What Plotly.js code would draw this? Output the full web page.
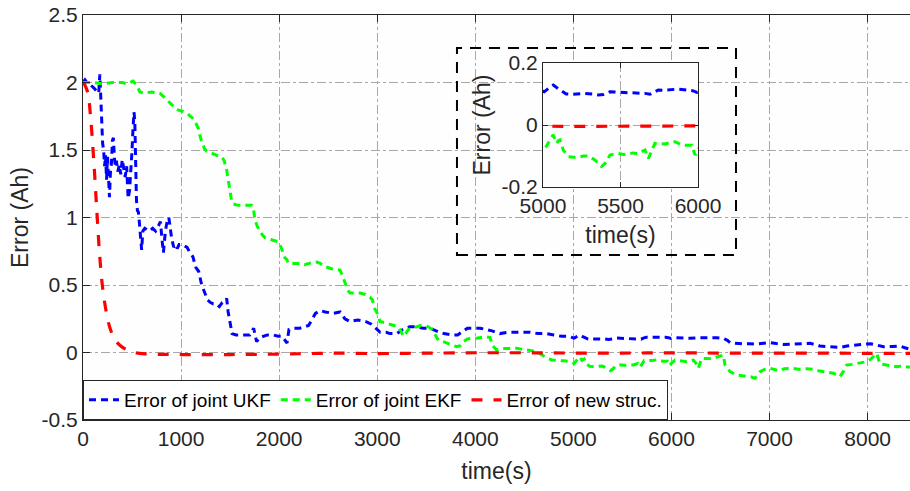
<!DOCTYPE html>
<html>
<head>
<meta charset="utf-8">
<script src="https://cdn.plot.ly/plotly-3.0.1.min.js"></script>
<style>html,body{margin:0;padding:0;background:#fff;}#chart{width:910px;height:491px;}</style>
</head>
<body>
<div id="chart"></div>
<script>
// ---- data ----
const seriesNames = ['Error of joint UKF', 'Error of joint EKF', 'Error of new struc.'];

const ukfTime = [
0,20,50,80,110,140,160,172,178,185,
192,200,210,220,230,240,250,260,270,280,
290,300,310,320,330,340,355,370,385,400,
415,430,445,460,475,490,500,510,520,528,
535,545,555,565,575,585,598,610,630,650,
680,710,740,770,790,805,820,840,860,875,
890,905,925,945,960,980,1000,1030,1060,1090,
1120,1150,1180,1210,1240,1270,1300,1330,1360,1390,
1420,1450,1465,1480,1500,1520,1560,1600,1650,1700,
1740,1770,1800,1840,1880,1940,1990,2030,2060,2080,
2100,2150,2210,2260,2300,2340,2370,2420,2470,2550,
2620,2670,2720,2800,2880,2940,2990,3030,3090,3130,
3200,3260,3330,3400,3470,3540,3600,3680,3760,3820,
3880,3920,3980,4050,4110,4170,4250,4330,4400,4480,
4560,4640,4720,4800,4880,4950,5008,5040,5066,5090,
5110,5150,5185,5230,5271,5320,5357,5390,5411,5432,
5470,5508,5550,5594,5630,5658,5690,5720,5744,5780,
5808,5840,5873,5910,5938,5970,5992,6019,6100,6189,
6291,6380,6461,6529,6570,6597,6660,6733,6800,6869,
6940,7005,7070,7140,7210,7276,7340,7412,7470,7514,
7570,7616,7670,7718,7790,7854,7940,8028,8100,8164,
8250,8330,8380,8432];
const ukfErr = [
2.0,2.02,1.99,1.98,1.96,1.94,1.92,2.06,1.92,1.85,
1.62,1.55,1.5,1.38,1.46,1.28,1.45,1.23,1.15,1.34,
1.4,1.57,1.59,1.44,1.38,1.42,1.34,1.39,1.32,1.43,
1.35,1.3,1.38,1.14,1.2,1.36,1.5,1.66,1.78,1.72,
1.45,1.13,1.05,1.04,0.96,0.85,0.76,0.9,0.92,0.91,
0.9,0.92,0.9,0.94,0.97,0.84,0.74,0.9,0.98,1.0,
0.9,0.84,0.78,0.8,0.77,0.8,0.8,0.79,0.78,0.74,
0.71,0.63,0.6,0.5,0.44,0.39,0.37,0.36,0.36,0.34,
0.37,0.38,0.4,0.3,0.22,0.14,0.13,0.13,0.13,0.13,
0.18,0.08,0.11,0.12,0.13,0.13,0.12,0.12,0.09,0.07,
0.17,0.18,0.18,0.19,0.2,0.25,0.29,0.31,0.3,0.29,
0.3,0.25,0.23,0.24,0.23,0.21,0.18,0.15,0.15,0.14,
0.14,0.17,0.19,0.19,0.18,0.18,0.16,0.14,0.13,0.13,
0.16,0.18,0.18,0.18,0.17,0.16,0.14,0.15,0.15,0.15,
0.15,0.14,0.14,0.13,0.12,0.12,0.107,0.12,0.129,0.12,
0.113,0.1,0.099,0.101,0.102,0.1,0.097,0.098,0.102,0.107,
0.106,0.105,0.104,0.105,0.103,0.102,0.099,0.108,0.113,0.112,
0.113,0.115,0.116,0.114,0.113,0.11,0.105,0.11,0.108,0.105,
0.11,0.112,0.11,0.105,0.09,0.073,0.066,0.063,0.065,0.063,
0.068,0.073,0.066,0.06,0.062,0.063,0.065,0.068,0.058,0.048,
0.045,0.043,0.04,0.038,0.048,0.055,0.06,0.065,0.055,0.043,
0.045,0.048,0.035,0.024];

const ekfTime = [
0,100,200,300,400,450,510,550,580,620,
700,785,830,870,920,955,1000,1040,1080,1125,
1150,1176,1195,1215,1240,1261,1300,1363,1414,1440,
1465,1482,1499,1516,1533,1580,1635,1680,1720,1737,
1754,1780,1805,1830,1856,1900,1958,1990,2008,2025,
2042,2060,2077,2095,2111,2160,2213,2260,2315,2350,
2383,2420,2451,2490,2535,2580,2620,2645,2671,2700,
2722,2770,2824,2880,2926,2950,2977,2994,3028,3080,
3130,3180,3215,3240,3266,3290,3317,3360,3402,3440,
3487,3520,3560,3600,3623,3674,3708,3760,3810,3845,
3878,3920,3960,4014,4060,4099,4150,4167,4190,4218,
4270,4320,4380,4422,4470,4507,4560,4626,4680,4728,
4780,4830,4900,4965,5008,5030,5045,5066,5088,5100,
5110,5131,5163,5195,5228,5260,5292,5335,5360,5378,
5400,5432,5460,5486,5520,5551,5580,5615,5640,5658,
5680,5701,5722,5750,5787,5820,5852,5885,5916,5959,
5981,5998,6036,6100,6155,6223,6250,6274,6308,6370,
6427,6480,6529,6546,6597,6665,6720,6767,6810,6852,
6903,6950,7005,7060,7106,7150,7208,7260,7310,7378,
7446,7500,7548,7600,7650,7700,7718,7752,7786,7840,
7905,7950,7990,8030,8058,8092,8126,8194,8250,8296,
8350,8398,8432];
const ekfErr = [
2.0,2.0,1.99,2.0,2.0,1.99,2.01,1.98,1.93,1.92,
1.93,1.92,1.89,1.86,1.82,1.8,1.79,1.78,1.76,1.73,
1.7,1.66,1.6,1.55,1.51,1.49,1.48,1.46,1.45,1.42,
1.35,1.27,1.2,1.12,1.1,1.09,1.09,1.09,1.09,1.07,
0.98,0.93,0.9,0.87,0.85,0.84,0.83,0.82,0.8,0.77,
0.74,0.7,0.69,0.66,0.66,0.66,0.66,0.65,0.665,0.67,
0.67,0.66,0.64,0.63,0.62,0.615,0.61,0.57,0.52,0.46,
0.44,0.44,0.44,0.43,0.41,0.39,0.32,0.3,0.23,0.22,
0.21,0.2,0.19,0.16,0.12,0.14,0.17,0.18,0.19,0.2,
0.2,0.19,0.17,0.12,0.09,0.08,0.07,0.055,0.043,0.05,
0.08,0.1,0.105,0.105,0.11,0.117,0.11,0.07,0.04,0.019,
0.03,0.031,0.03,0.031,0.025,0.019,0.015,0.006,-0.02,-0.04,
-0.055,-0.06,-0.062,-0.065,-0.081,-0.06,-0.048,-0.032,-0.059,-0.05,
-0.048,-0.081,-0.102,-0.104,-0.104,-0.1,-0.1,-0.113,-0.125,-0.134,
-0.124,-0.097,-0.094,-0.092,-0.095,-0.094,-0.09,-0.092,-0.085,-0.081,
-0.108,-0.086,-0.059,-0.06,-0.061,-0.057,-0.054,-0.062,-0.065,-0.065,
-0.097,-0.081,-0.056,-0.062,-0.068,-0.056,-0.08,-0.117,-0.043,-0.045,
-0.043,-0.03,-0.019,-0.093,-0.142,-0.167,-0.17,-0.174,-0.18,-0.191,
-0.142,-0.125,-0.117,-0.128,-0.135,-0.12,-0.117,-0.12,-0.125,-0.12,
-0.125,-0.135,-0.142,-0.15,-0.154,-0.17,-0.179,-0.142,-0.093,-0.088,
-0.08,-0.075,-0.068,-0.05,-0.031,-0.006,-0.085,-0.093,-0.1,-0.105,
-0.1,-0.105,-0.11];

const newTime = [0,20,50,80,110,140,170,200,240,280,330,400,480,560,700,1000,1500,2000,2300,2600,3000,3300,3600,4000,4500,5000,5500,6000,6500,7000,7500,8000,8432];
const newErr = [2.0,1.98,1.92,1.72,1.42,1.06,0.72,0.48,0.29,0.17,0.09,0.04,0.01,-0.005,-0.012,-0.015,-0.015,-0.012,-0.008,-0.005,-0.008,-0.006,-0.004,-0.002,-0.002,-0.004,-0.004,-0.003,-0.004,-0.005,-0.005,-0.006,-0.007];

// tick labels
const mainXTicks = [0,1000,2000,3000,4000,5000,6000,7000,8000];
const mainYTicks = [-0.5,0,0.5,1,1.5,2,2.5];
const mainYTickText = ['-0.5','0','0.5','1','1.5','2','2.5'];
const insetXTicks = [5000,5500,6000];
const insetYTicks = [-0.2,0,0.2];
const insetYTickText = ['-0.2','0','0.2'];

// ---- styling ----
const colors = ['#0000ff', '#00ff00', '#ff0000'];
const dashes = ['7px,5px', '7px,5px', '11px,11px'];
const widths = [3, 3, 3.2];
const series = [[ukfTime, ukfErr], [ekfTime, ekfErr], [newTime, newErr]];

const traces = [];
series.forEach((s, i) => {
  traces.push({
    type: 'scatter', mode: 'lines', x: s[0], y: s[1], name: seriesNames[i],
    xaxis: 'x', yaxis: 'y',
    line: {color: colors[i], width: widths[i], dash: dashes[i], shape: i === 2 ? 'spline' : 'linear'},
    showlegend: true
  });
});
series.forEach((s, i) => {
  traces.push({
    type: 'scatter', mode: 'lines', x: s[0], y: s[1], name: seriesNames[i],
    xaxis: 'x2', yaxis: 'y2',
    line: {color: colors[i], width: widths[i], dash: dashes[i], shape: i === 2 ? 'spline' : 'linear'},
    showlegend: false
  });
});

const axisCol = '#262626';
const gridCol = '#a8a8a8';
const fontFam = '"Liberation Sans", Arial, Helvetica, sans-serif';

const layout = {
  width: 910, height: 491,
  margin: {l: 83, r: 0, t: 15, b: 71},
  paper_bgcolor: '#ffffff',
  plot_bgcolor: '#fefefe',
  font: {family: fontFam, color: axisCol, size: 20},
  showlegend: true,
  legend: {
    orientation: 'h', x: 0, y: 0, xanchor: 'left', yanchor: 'bottom',
    bgcolor: '#ffffff', bordercolor: axisCol, borderwidth: 1,
    font: {family: fontFam, size: 19, color: '#000'},
    tracegroupgap: 0
  },
  xaxis: {
    domain: [0, 1], range: [0, 8432], tickvals: mainXTicks,
    ticks: 'inside', ticklen: 7, tickcolor: axisCol, tickwidth: 1,
    showline: true, linecolor: axisCol, linewidth: 1, mirror: 'ticks',
    showgrid: true, gridcolor: gridCol, griddash: 'dashdot', gridwidth: 1,
    zeroline: false, tickfont: {size: 21, color: axisCol},
    title: {text: 'time(s)', font: {size: 23, color: axisCol}, standoff: 13}
  },
  yaxis: {
    domain: [0, 1], range: [-0.5, 2.5], tickvals: mainYTicks, ticktext: mainYTickText,
    ticks: 'inside', ticklen: 7, tickcolor: axisCol, tickwidth: 1,
    showline: true, linecolor: axisCol, linewidth: 1, mirror: false,
    showgrid: true, gridcolor: gridCol, griddash: 'dashdot', gridwidth: 1,
    zeroline: false, tickfont: {size: 21, color: axisCol},
    title: {text: 'Error (Ah)', font: {size: 23, color: axisCol}, standoff: 6}
  },
  xaxis2: {
    domain: [0.5562, 0.7437], anchor: 'y2', range: [5000, 6000], tickvals: insetXTicks,
    ticks: 'inside', ticklen: 5, tickcolor: axisCol,
    showline: true, linecolor: axisCol, linewidth: 1, mirror: 'ticks',
    showgrid: true, gridcolor: gridCol, griddash: 'dashdot', gridwidth: 1,
    zeroline: false, tickfont: {size: 21, color: axisCol},
    title: {text: 'time(s)', font: {size: 23, color: axisCol}, standoff: 10}
  },
  yaxis2: {
    domain: [0.5753, 0.8815], anchor: 'x2', range: [-0.2, 0.2], tickvals: insetYTicks, ticktext: insetYTickText,
    ticks: 'inside', ticklen: 5, tickcolor: axisCol,
    showline: true, linecolor: axisCol, linewidth: 1, mirror: 'ticks',
    showgrid: true, gridcolor: gridCol, griddash: 'dashdot', gridwidth: 1,
    zeroline: false, tickfont: {size: 21, color: axisCol},
    title: {text: 'Error (Ah)', font: {size: 23, color: axisCol}, standoff: 4}
  },
  shapes: [{
    type: 'rect', xref: 'paper', yref: 'paper',
    x0: 0.4522, x1: 0.7896, y0: 0.4074, y1: 0.9185,
    line: {color: '#000000', width: 2, dash: '11px,8px'}, fillcolor: 'rgba(0,0,0,0)', layer: 'above'
  }]
};

Plotly.newPlot('chart', traces, layout, {displayModeBar: false, staticPlot: true});
</script>
</body>
</html>
